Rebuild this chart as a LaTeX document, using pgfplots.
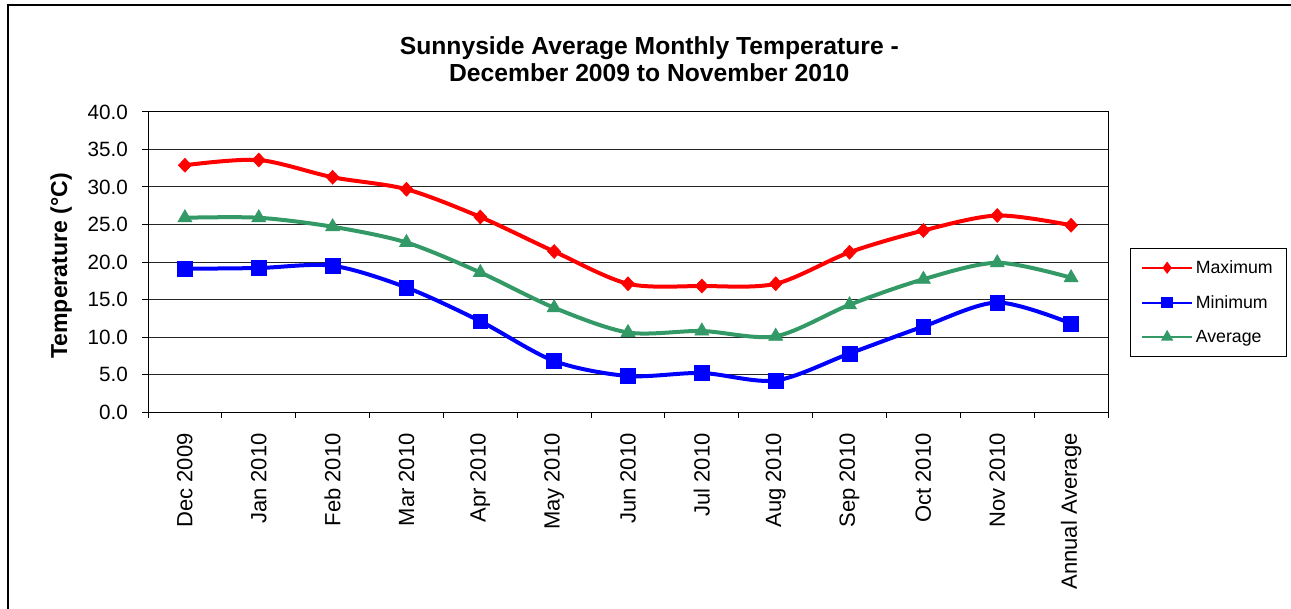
\documentclass[border=0pt]{standalone}
\usepackage{pgfplots}
\pgfplotsset{compat=1.18}
\usepackage{fontspec}
\setmainfont{Liberation Sans}
\definecolor{sgreen}{RGB}{51,153,102}
\begin{document}
\begin{tikzpicture}
\clip (0,0) rectangle (968.25pt,-456.75pt);
\draw[line width=2pt] (6pt,-3.75pt) rectangle (1000pt,-500pt);
\node[align=center, font=\fontsize{18.5}{20.5}\selectfont\bfseries] at (487pt,-44.6pt)
  {Sunnyside Average Monthly Temperature -\\December 2009 to November 2010};
\begin{axis}[
  at={(111pt,-309pt)}, anchor=south west,
  scale only axis, width=720pt, height=225pt,
  xmin=-0.5, xmax=12.5, ymin=0, ymax=40,
  xtick={0,...,12},
  xticklabels={Dec 2009,Jan 2010,Feb 2010,Mar 2010,Apr 2010,May 2010,Jun 2010,Jul 2010,Aug 2010,Sep 2010,Oct 2010,Nov 2010,Annual Average},
  minor xtick={-0.5,0.5,...,12.5},
  major x tick style={draw=none},
  minor x tick style={black, line width=0.75pt},
  minor tick length=4.5pt,
  ytick={0,5,...,40},
  major tick length=4.5pt,
  tick align=outside,
  ytick pos=left, xtick pos=bottom,
  y tick style={black, line width=0.75pt},
  ymajorgrids,
  grid style={black!85, line width=0.75pt},
  axis line style={black, line width=0.75pt},
  yticklabel style={font=\fontsize{15.5}{17}\selectfont, xshift=-7pt, /pgf/number format/.cd, fixed, fixed zerofill, precision=1, assume math mode=true},
  xticklabel style={rotate=90, anchor=east, yshift=0pt, xshift=-8pt, font=\fontsize{16.5}{18}\selectfont},
  ylabel={Temperature (°C)},
  ylabel style={at={(axis description cs:-0.0905,0.487)}, anchor=center, font=\fontsize{17.3}{19}\selectfont\bfseries},
  legend style={at={(axis description cs:1.023,0.547)}, anchor=north west, draw=black, line width=0.6pt,
    font=\fontsize{13.3}{15}\selectfont, row sep=11pt, inner xsep=8pt, inner ysep=7pt},
  legend cell align=left,
  legend image code/.code={\draw[mark repeat=2,mark phase=2, line width=1.5pt, mark options={scale=0.65}] plot coordinates {(0pt,0pt) (18.75pt,0pt) (37.5pt,0pt)};},
]
\addplot[red, line width=3pt, smooth, mark=diamond*, mark size=5.2pt, mark options={xscale=1.25, line width=0.5pt}]
  coordinates {(0,32.9) (1,33.6) (2,31.3) (3,29.7) (4,26.0) (5,21.4) (6,17.1) (7,16.8) (8,17.1) (9,21.3) (10,24.2) (11,26.2) (12,24.9)};
\addlegendentry{Maximum}
\addplot[blue, line width=3pt, smooth, mark=square*, mark size=5.5pt, mark options={line width=0.5pt}]
  coordinates {(0,19.1) (1,19.2) (2,19.5) (3,16.6) (4,12.1) (5,6.8) (6,4.8) (7,5.2) (8,4.2) (9,7.8) (10,11.4) (11,14.6) (12,11.8)};
\addlegendentry{Minimum}
\addplot[sgreen, line width=3pt, smooth, mark=triangle*, mark size=6pt, mark options={line width=0.5pt}]
  coordinates {(0,25.9) (1,25.9) (2,24.7) (3,22.6) (4,18.6) (5,13.9) (6,10.6) (7,10.8) (8,10.1) (9,14.3) (10,17.7) (11,19.9) (12,17.9)};
\addlegendentry{Average}
\end{axis}
\end{tikzpicture}
\end{document}
